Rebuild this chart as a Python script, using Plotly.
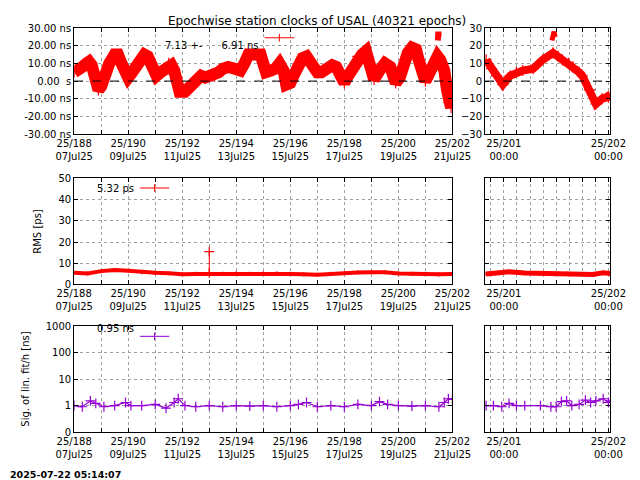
import plotly.graph_objects as go

# ── Data ──────────────────────────────────────────────────────────────────────
# clock offset [ns], full span (day of year 2025)
clk_day = [188.0, 188.15, 188.3, 188.45, 188.55, 188.65, 188.75, 188.9, 189.0, 189.1, 189.3,
           189.5, 189.62, 189.75, 189.88, 190.0, 190.15, 190.3, 190.45, 190.6, 190.72, 190.85,
           191.05, 191.2, 191.3, 191.5, 191.6, 191.7, 191.8, 191.9, 192.1, 192.3, 192.5, 192.7,
           192.85, 193.0, 193.2, 193.35, 193.5, 193.7, 193.95, 194.15, 194.3, 194.45, 194.65,
           194.9, 195.0, 195.1, 195.3, 195.45, 195.6, 195.75, 195.85, 196.0, 196.15, 196.3,
           196.45, 196.6, 196.8, 197.0, 197.15, 197.3, 197.55, 197.7, 197.8, 197.9, 198.0,
           198.1, 198.25, 198.5, 198.65, 198.8, 198.95, 199.1, 199.3, 199.5, 199.7, 199.8,
           199.9, 200.05, 200.2, 200.35, 200.5, 200.65, 200.75, 200.9, 201.0, 201.1, 201.2,
           201.35, 201.45, 201.55, 201.7, 201.8, 201.85, 201.95, 202.0]
clk_val = [5, 6, 8, 10, 11, 9, 5, -5, -3, 3, 10,
           15, 15, 10, 5, 2, 5, 8, 12, 15, 14, 10,
           3, 5, 6, 10, 9, 6, 0, -6, -6, -3, 1, 3,
           2, 3, 3, 5, 7, 8, 7, 6, 10, 15, 15,
           15, 10, 5, 6, 7, 10, 6, -2, -1, 4, 9,
           13, 14, 10, 5, 5, 7, 9, 8, 5, 2, -1,
           2, 6, 14, 15, 17, 8, 1, 6, 10, 8, 3,
           -1, 2, 10, 16, 19, 18, 12, 5, 0, 3, 6,
           11, 14, 12, 6, -5, -12, -15, -8]
# clock offset [ns], last day zoom
clk2_day = [200.83, 200.88, 200.93, 200.99, 201.06, 201.12, 201.18, 201.28, 201.37, 201.47,
            201.52, 201.56, 201.62, 201.66, 201.72, 201.75, 201.82, 201.88, 201.94, 202.0, 202.02]
clk2_val = [12, 7, 3, -2, 3, 5, 6, 7, 12, 16, 14, 12, 10, 8, 5, 3, -5, -13, -10, -9, -7]
out_day = [201.46, 201.47, 201.48, 201.49]
out_val = [23, 26, 28, 25]

# RMS [ps]
rms_day = [188.0, 188.5, 189.0, 189.5, 190.0, 190.5, 191.0, 191.5, 192.0, 192.5,
           193.0, 193.5, 194.0, 194.5, 195.0, 195.5, 196.0, 196.5, 197.0, 197.5, 198.0,
           198.5, 199.0, 199.5, 200.0, 200.5, 201.0, 201.5, 202.0]
rms_val = [5.5, 5.2, 6.3, 6.8, 6.5, 5.8, 5.5, 5.3, 4.8, 5.0, 5.0, 5.0, 5.2, 5.0, 5.3,
           5.2, 5.0, 4.8, 4.6, 5.0, 5.5, 5.7, 5.8, 5.8, 5.2, 5.0, 5.0, 4.8, 5.0]
spike_day = [193.0, 193.0]
spike_val = [5.5, 15.5]
rms2_day = [200.83, 200.95, 201.05, 201.2, 201.4, 201.6, 201.75, 201.85, 201.95, 202.02]
rms2_val = [5.0, 5.3, 6.0, 5.4, 5.2, 5.2, 4.8, 4.7, 5.5, 5.2]

# sigma of linear fit [ns]
sig_day = [188.0, 188.3, 188.6, 188.8, 189.1, 189.5, 189.9, 190.1, 190.5, 191.0, 191.4,
           191.7, 191.85, 192.1, 192.5, 193.0, 193.5, 194.0, 194.5, 195.0, 195.5, 196.0,
           196.3, 196.6, 197.0, 197.5, 198.0, 198.5, 199.0, 199.3, 199.6, 200.0, 200.5,
           201.0, 201.5, 201.7, 201.85, 202.0]
sig_val = [1.0, 0.9, 1.5, 1.2, 0.9, 1.0, 1.3, 1.0, 1.0, 1.1, 0.8, 1.3, 1.8, 1.0, 0.9, 1.0,
           0.9, 1.0, 0.95, 1.0, 0.9, 1.0, 1.1, 1.3, 0.9, 1.0, 0.9, 1.1, 1.0, 1.4, 1.1, 1.0,
           0.95, 1.0, 0.9, 1.3, 1.8, 1.7]
sig2_day = [200.83, 200.9, 200.98, 201.05, 201.12, 201.2, 201.35, 201.45, 201.5, 201.55,
            201.6, 201.65, 201.72, 201.78, 201.83, 201.88, 201.95, 202.0, 202.02]
sig2_val = [1.0, 1.0, 0.9, 1.2, 1.0, 1.0, 1.0, 0.9, 0.9, 1.4, 1.5, 1.0, 1.1, 1.6, 1.3, 1.5,
            1.8, 1.3, 1.5]

day_ticks = [188, 190, 192, 194, 196, 198, 200, 202]
day_text = ["25/188<br>07Jul25", "25/190<br>09Jul25", "25/192<br>11Jul25", "25/194<br>13Jul25",
            "25/196<br>15Jul25", "25/198<br>17Jul25", "25/200<br>19Jul25", "25/202<br>21Jul25"]
zoom_ticks = [201, 202]
zoom_text = ["25/201<br>00:00", "25/202<br>00:00"]
clk_ticks = [-30, -20, -10, 0, 10, 20, 30]
clk_text = ["-30.00 ns", "-20.00 ns", "-10.00 ns", "0.00  s", "10.00 ns", "20.00 ns", "30.00 ns"]

RED = "#FF0000"
VIOLET = "#9400D3"
FONT = "DejaVu Sans"

# ── Figure ────────────────────────────────────────────────────────────────────
fig = go.Figure()

XL = [0.1034, 0.6944]
XR = [0.7454, 0.9414]
ROWS = [[0.7375, 0.958], [0.4240, 0.6448], [0.1166, 0.3374]]


def band(x, y, color, width, xa, ya, size=6):
    fig.add_trace(go.Scatter(x=x, y=y, mode="lines+markers", xaxis=xa, yaxis=ya,
                             line=dict(color=color, width=width),
                             marker=dict(symbol="cross-thin-open", size=size,
                                         line=dict(color=color, width=1.2)),
                             showlegend=False, hoverinfo="skip"))


band(clk_day, clk_val, RED, 12, "x", "y", 8)
band(clk2_day, clk2_val, RED, 8, "x2", "y2", 8)
fig.add_trace(go.Scatter(x=out_day, y=out_val, mode="lines", xaxis="x", yaxis="y",
                         line=dict(color=RED, width=6), showlegend=False))
fig.add_trace(go.Scatter(x=out_day, y=out_val, mode="lines", xaxis="x2", yaxis="y2",
                         line=dict(color=RED, width=5), showlegend=False))
band(rms_day, rms_val, RED, 4, "x3", "y3", 3)
band(spike_day, spike_val, RED, 1, "x3", "y3", 7)
band(rms2_day, rms2_val, RED, 5, "x4", "y4", 3)
band(sig_day, sig_val, VIOLET, 1.2, "x5", "y5", 7)
band(sig2_day, sig2_val, VIOLET, 1.2, "x6", "y6", 7)

ax_common = dict(showline=True, linecolor="black", linewidth=1, mirror="ticks",
                 ticks="inside", ticklen=4, tickcolor="black", automargin=False,
                 showgrid=True, gridcolor="#A0A0A0", griddash="dot", gridwidth=1,
                 zeroline=False, tickfont=dict(size=10, color="black"))

layout = dict(
    width=640, height=480,
    plot_bgcolor="white", paper_bgcolor="white",
    font=dict(family=FONT, size=10, color="black"),
    margin=dict(l=0, r=0, t=0, b=0, autoexpand=False),
    showlegend=False,
)

for i, (ys, yn) in enumerate(zip(ROWS, [("y", "y2"), ("y3", "y4"), ("y5", "y6")])):
    xl = "xaxis" if i == 0 else f"xaxis{2 * i + 1}"
    xr = f"xaxis{2 * i + 2}"
    yl = "yaxis" if i == 0 else f"yaxis{2 * i + 1}"
    yr = f"yaxis{2 * i + 2}"
    layout[xl] = dict(ax_common, domain=XL, range=[188, 202], anchor=yn[0],
                      tickvals=day_ticks, ticktext=day_text,
                      minor=dict(showgrid=True, gridcolor="#A0A0A0", griddash="dot",
                                 dtick=1, tick0=188, ticks="inside", ticklen=4))
    layout[xr] = dict(ax_common, domain=XR, range=[200.82, 202.02], anchor=yn[1],
                      tickvals=zoom_ticks, ticktext=zoom_text,
                      minor=dict(showgrid=True, gridcolor="#A0A0A0", griddash="dot",
                                 dtick=0.125, tick0=201, ticks="inside", ticklen=4))
    layout[yl] = dict(ax_common, domain=ys, anchor=xl.replace("axis", "") if i else "x")
    layout[yr] = dict(ax_common, domain=ys, anchor=xr.replace("axis", ""))

layout["yaxis"].update(range=[-30, 30], tickvals=clk_ticks, ticktext=clk_text)
layout["yaxis2"].update(range=[-30, 30], tickvals=clk_ticks)
layout["yaxis3"].update(range=[0, 50], dtick=10,
                        title=dict(text="RMS [ps]", standoff=14, font=dict(size=10)))
layout["yaxis4"].update(range=[0, 50], dtick=10, showticklabels=False)
log_ticks = [0.1, 1, 10, 100, 1000]
log_text = ["0", "1", "10", "100", "1000"]
layout["yaxis5"].update(type="log", range=[-1, 3], tickvals=log_ticks, ticktext=log_text,
                        title=dict(text="Sig. of lin. fit/h [ns]", standoff=14, font=dict(size=10)))
layout["yaxis6"].update(type="log", range=[-1, 3], tickvals=log_ticks, showticklabels=False)

fig.update_layout(**layout)

# zero lines on the clock panels
for xr_, yr_ in [("x", "y"), ("x2", "y2")]:
    fig.add_shape(type="line", xref=f"{xr_} domain", yref=yr_, x0=0, x1=1, y0=0, y1=0,
                  line=dict(color="black", width=1, dash="dash"))

fig.add_annotation(text="Epochwise station clocks of USAL (40321 epochs)", x=0.483, y=0.992,
                   xref="paper", yref="paper", showarrow=False, font=dict(size=12))
fig.add_annotation(text="<b>2025-07-22 05:14:07</b>", x=0.0, y=0.012, xref="paper",
                   yref="paper", xanchor="left", showarrow=False, font=dict(size=9.5))

# key entries
keys = [("7.13 +-      6.91 ns", 0.395, 0.938, RED), ("5.32 ps", 0.2, 0.625, RED),
        ("0.95 ns", 0.2, 0.316, VIOLET)]
for txt, xk, yk, col in keys:
    fig.add_annotation(text=txt, x=xk, y=yk, xref="paper", yref="paper", xanchor="right",
                       showarrow=False, font=dict(size=10))
    fig.add_shape(type="line", xref="paper", yref="paper", x0=xk + 0.006, x1=xk + 0.052,
                  y0=yk, y1=yk, line=dict(color=col, width=1))
    fig.add_shape(type="line", xref="paper", yref="paper", x0=xk + 0.029, x1=xk + 0.029,
                  y0=yk - 0.008, y1=yk + 0.008, line=dict(color=col, width=1))

fig.write_html("out.html")
